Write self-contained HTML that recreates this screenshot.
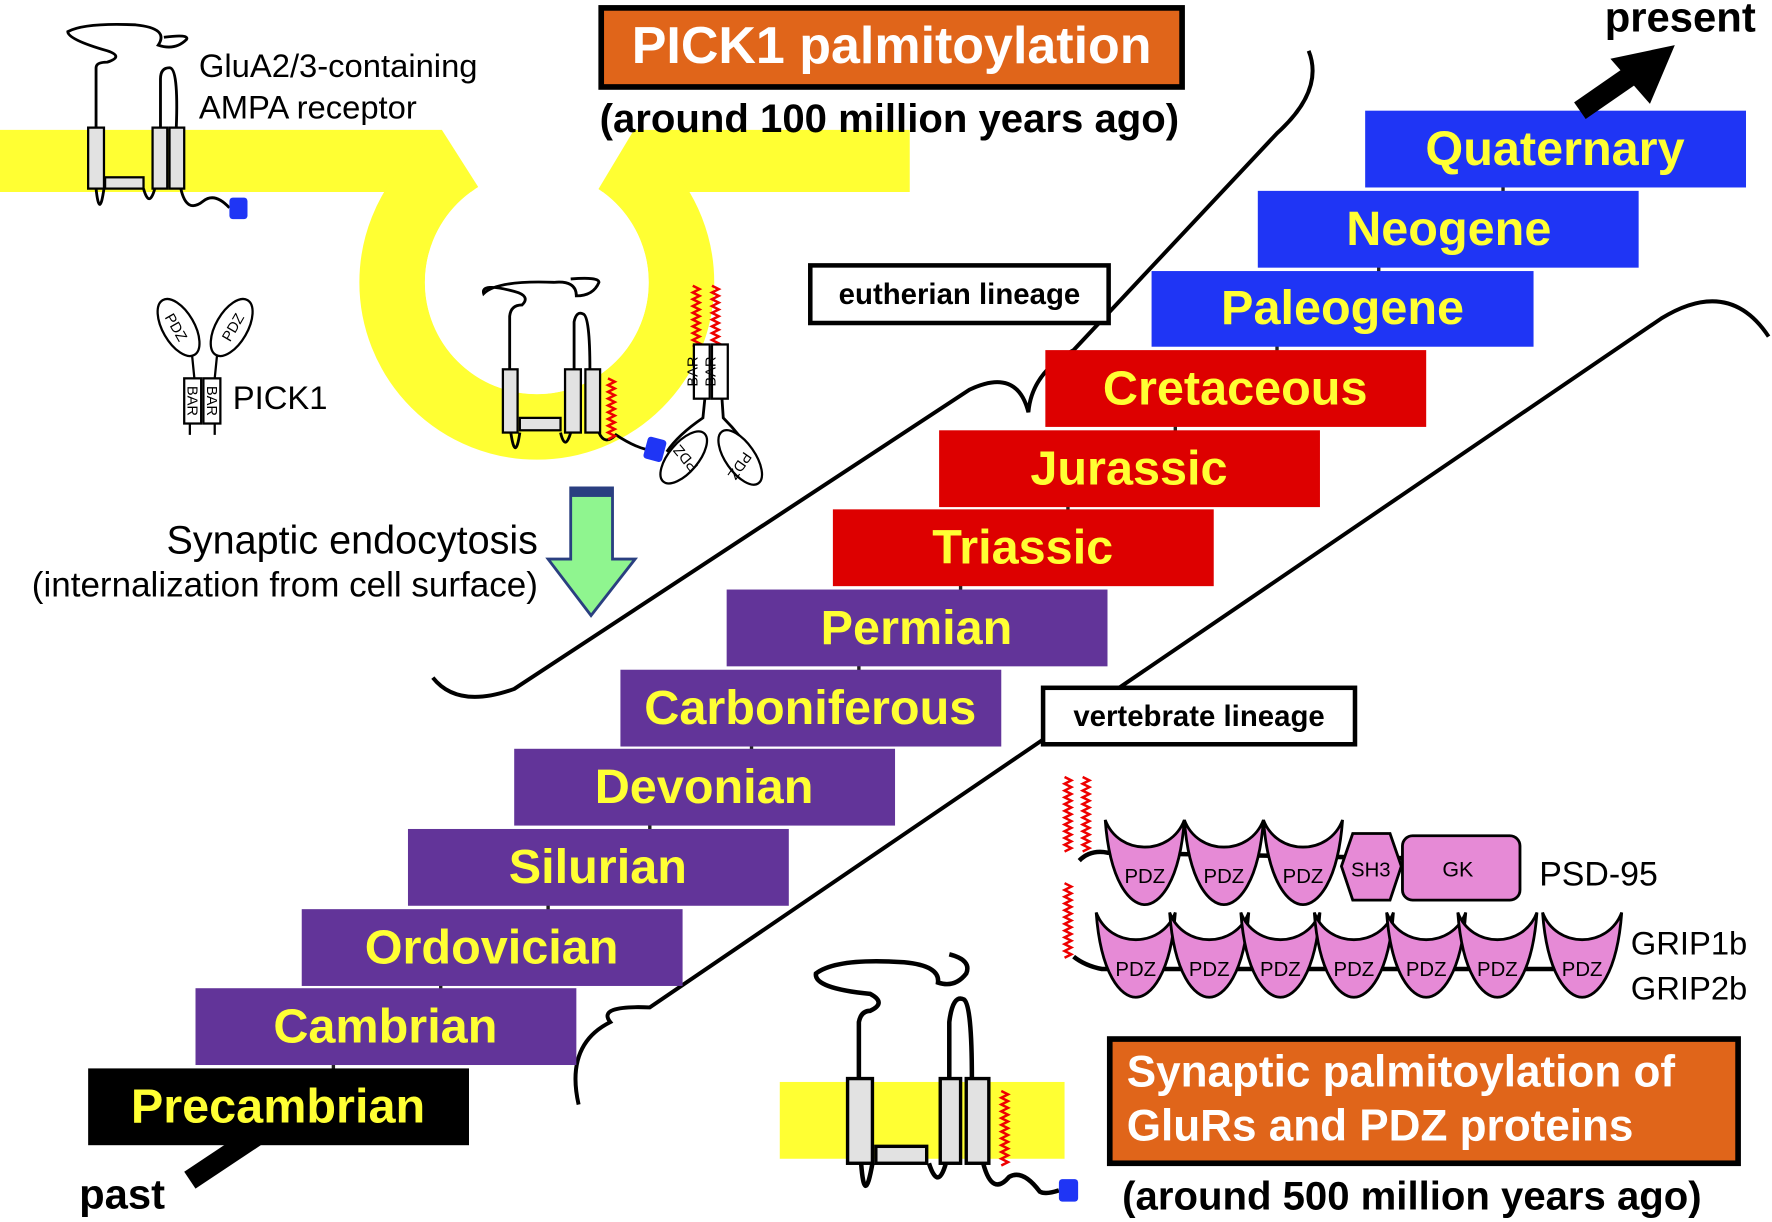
<!DOCTYPE html>
<html><head><meta charset="utf-8"><style>
html,body{margin:0;padding:0;background:#fff}
svg{display:block}
text{font-family:"Liberation Sans",sans-serif}
.st{font-weight:bold;fill:#ffff33;font-size:43px}
.b{font-weight:bold}
.zz{fill:none;stroke:#e00;stroke-width:2.2}
</style></head><body>
<svg width="1772" height="1222" viewBox="0 0 1568 1082" preserveAspectRatio="none" xmlns="http://www.w3.org/2000/svg">
<defs>
<g id="pdz"><path d="M0,0 C4,55 22,75 35,75 C48,75 66,55 70,0 C58,32 12,32 0,0 Z" fill="#e68ad6" stroke="#000" stroke-width="2.5"/><text x="35" y="56" font-size="18" text-anchor="middle">PDZ</text></g>
<path id="z50" d="M0,0 l6,3 -6,3 6,3 -6,3 6,3 -6,3 6,3 -6,3 6,3 -6,3 6,3 -6,3 6,3 -6,3 6,3 -6,3 6,3 -6,3"/>
<path id="z65" d="M0,0 l6,3 -6,3 6,3 -6,3 6,3 -6,3 6,3 -6,3 6,3 -6,3 6,3 -6,3 6,3 -6,3 6,3 -6,3 6,3 -6,3 6,3 -6,3 6,3 -6,3"/>
</defs>

<!-- membrane -->
<rect x="0" y="115" width="420" height="55" fill="#ffff33"/>
<rect x="520" y="115" width="285" height="55" fill="#ffff33"/>
<circle cx="475" cy="250" r="128" fill="none" stroke="#ffff33" stroke-width="58"/>
<polygon points="391,80 561,80 561,115 528,170 426,170 391,115" fill="#fff"/>
<circle cx="475" cy="250" r="99" fill="#fff"/>

<!-- title -->
<rect x="532" y="7" width="514" height="70" fill="#e0651a" stroke="#000" stroke-width="5"/>
<text x="789" y="56" font-size="46" class="b" fill="#fff" text-anchor="middle">PICK1 palmitoylation</text>
<text x="787" y="117" font-size="35.5" class="b" text-anchor="middle">(around 100 million years ago)</text>

<!-- top receptor -->
<g fill="none" stroke="#000" stroke-width="2.5">
<path d="M85,113 L85,60 Q85,55 95,55 Q110,50 95,45 Q60,35 60,28 Q75,20 120,22 Q150,25 140,40 Q155,45 165,35 Q168,30 145,33"/>
<path d="M142,113 L142,70 Q142,60 150,60 Q158,60 156,113"/>
<path d="M85,167 Q88,195 92,167 M127,167 Q132,185 137,167 M160,167 Q165,190 180,178 Q190,170 203,184"/>
</g>
<g fill="#e2e2e2" stroke="#000" stroke-width="2">
<rect x="78" y="113" width="14" height="54"/><rect x="135" y="113" width="13" height="54"/><rect x="150" y="113" width="13" height="54"/><rect x="93" y="157" width="34" height="10"/>
</g>
<rect x="203" y="175" width="16" height="19" rx="3" fill="#1f35f5"/>
<text x="176" y="68" font-size="29">GluA2/3-containing</text>
<text x="176" y="105" font-size="29">AMPA receptor</text>

<!-- PICK1 -->
<g fill="#fff" stroke="#000" stroke-width="2">
<ellipse cx="158" cy="290" rx="14" ry="28" transform="rotate(-30 158 290)"/>
<ellipse cx="205" cy="290" rx="14" ry="28" transform="rotate(30 205 290)"/>
<path d="M170,315 L172,335 M192,315 L190,335" fill="none"/>
<rect x="163" y="335" width="15" height="40"/><rect x="180" y="335" width="15" height="40"/>
<path d="M168,375 V385 M190,375 V385" fill="none"/>
</g>
<g font-size="13">
<text transform="translate(152,292) rotate(60)" text-anchor="middle">PDZ</text>
<text transform="translate(210,292) rotate(-60)" text-anchor="middle">PDZ</text>
<text transform="translate(166,355) rotate(90)" text-anchor="middle">BAR</text>
<text transform="translate(183,355) rotate(90)" text-anchor="middle">BAR</text>
</g>
<text x="206" y="362" font-size="29">PICK1</text>

<!-- middle receptor -->
<g fill="none" stroke="#000" stroke-width="2.5">
<path d="M451,327 L451,280 Q452,270 462,270 Q470,262 455,258 Q425,250 428,260 Q440,248 490,250 Q510,248 510,262 Q525,262 530,250 Q530,245 505,247"/>
<path d="M508,327 L508,285 Q510,275 516,278 Q522,280 522,327"/>
<path d="M452,383 Q456,410 460,383 M496,383 Q500,400 505,383 M530,383 Q535,395 545,385 Q560,395 572,398"/>
<path d="M625,340 L622,370 Q600,385 590,400 M638,340 L640,370 Q655,385 668,405"/>
</g>
<g fill="#e2e2e2" stroke="#000" stroke-width="2">
<rect x="445" y="327" width="13" height="56"/><rect x="500" y="327" width="14" height="56"/><rect x="518" y="327" width="13" height="56"/><rect x="460" y="370" width="36" height="11"/>
</g>
<use href="#z50" class="zz" x="538" y="335"/>
<use href="#z50" class="zz" x="613" y="253"/>
<use href="#z50" class="zz" x="630" y="253"/>
<g fill="#fff" stroke="#000" stroke-width="2">
<rect x="614" y="305" width="14" height="48"/><rect x="630" y="305" width="14" height="48"/>
<ellipse cx="605" cy="405" rx="13" ry="28" transform="rotate(40 605 405)"/>
<ellipse cx="655" cy="405" rx="13" ry="28" transform="rotate(-35 655 405)"/>
</g>
<g font-size="13">
<text transform="translate(617,329) rotate(-90)" text-anchor="middle">BAR</text>
<text transform="translate(633,329) rotate(-90)" text-anchor="middle">BAR</text>
<text transform="translate(610,403) rotate(-130)" text-anchor="middle">PDZ</text>
<text transform="translate(651,410) rotate(-235)" text-anchor="middle">PDZ</text>
</g>
<rect x="571" y="388" width="17" height="20" rx="3" fill="#1f35f5" transform="rotate(15 580 398)"/>

<!-- endocytosis arrow -->
<path d="M505,432 H542 V495 H562 L523,545 L485,495 H505 Z" fill="#8ff58f" stroke="#2a3f80" stroke-width="2.5"/>
<rect x="505" y="432" width="37" height="8" fill="#2a3f80"/>
<text x="476" y="490" font-size="35" text-anchor="end">Synaptic endocytosis</text>
<text x="476" y="528" font-size="31" text-anchor="end">(internalization from cell surface)</text>

<!-- braces -->
<g fill="none" stroke="#000" stroke-width="3.5">
<path d="M383,600 Q405,628 455,610 L858,345 Q900,325 910,365 Q913,330 950,310 L1130,118 Q1172,80 1158,45"/>
<path d="M512,978 Q500,925 540,905 Q528,890 575,892 L1470,282 Q1530,245 1565,298"/>
</g>

<!-- steps -->
<g stroke="#222" stroke-width="3">
<line x1="1330" y1="160" x2="1330" y2="175"/><line x1="1220" y1="232" x2="1220" y2="246"/><line x1="1130" y1="302" x2="1130" y2="316"/>
<line x1="1040" y1="373" x2="1040" y2="387"/><line x1="945" y1="444" x2="945" y2="457"/><line x1="850" y1="514" x2="850" y2="528"/>
<line x1="760" y1="585" x2="760" y2="599"/><line x1="665" y1="656" x2="665" y2="669"/><line x1="575" y1="726" x2="575" y2="740"/>
<line x1="485" y1="797" x2="485" y2="811"/><line x1="390" y1="868" x2="390" y2="881"/><line x1="295" y1="938" x2="295" y2="952"/>
</g>
<rect x="1208" y="98" width="337" height="68" fill="#1f35f5"/>
<rect x="1113" y="169" width="337" height="68" fill="#1f35f5"/>
<rect x="1019" y="240" width="338" height="67" fill="#1f35f5"/>
<rect x="925" y="310" width="337" height="68" fill="#dd0000"/>
<rect x="831" y="381" width="337" height="68" fill="#dd0000"/>
<rect x="737" y="451" width="337" height="68" fill="#dd0000"/>
<rect x="643" y="522" width="337" height="68" fill="#623499"/>
<rect x="549" y="593" width="337" height="68" fill="#623499"/>
<rect x="455" y="663" width="337" height="68" fill="#623499"/>
<rect x="361" y="734" width="337" height="68" fill="#623499"/>
<rect x="267" y="805" width="337" height="68" fill="#623499"/>
<rect x="173" y="875" width="337" height="68" fill="#623499"/>
<rect x="78" y="946" width="337" height="68" fill="#000"/>
<g text-anchor="middle">
<text class="st" x="1376" y="146">Quaternary</text>
<text class="st" x="1282" y="217">Neogene</text>
<text class="st" x="1188" y="287">Paleogene</text>
<text class="st" x="1093" y="358">Cretaceous</text>
<text class="st" x="999" y="429">Jurassic</text>
<text class="st" x="905" y="499">Triassic</text>
<text class="st" x="811" y="570">Permian</text>
<text class="st" x="717" y="641">Carboniferous</text>
<text class="st" x="623" y="711">Devonian</text>
<text class="st" x="529" y="782">Silurian</text>
<text class="st" x="435" y="853">Ordovician</text>
<text class="st" x="341" y="923">Cambrian</text>
<text class="st" x="246" y="994">Precambrian</text>
</g>

<!-- present/past -->
<line x1="1398" y1="98" x2="1450" y2="62" stroke="#000" stroke-width="18"/>
<polygon points="1482,40 1425,52 1460,92" fill="#000"/>
<text x="1420" y="28" font-size="37" class="b">present</text>
<line x1="168" y1="1045" x2="228" y2="1005" stroke="#000" stroke-width="18"/>
<text x="70" y="1070" font-size="37" class="b">past</text>

<!-- lineage labels -->
<rect x="717" y="235" width="264" height="51" fill="#fff" stroke="#000" stroke-width="4"/>
<text x="849" y="269" font-size="26" class="b" text-anchor="middle">eutherian lineage</text>
<rect x="923" y="609" width="276" height="50" fill="#fff" stroke="#000" stroke-width="4"/>
<text x="1061" y="643" font-size="26" class="b" text-anchor="middle">vertebrate lineage</text>

<!-- PSD-95 -->
<use href="#z65" class="zz" x="942" y="688"/>
<use href="#z65" class="zz" x="958" y="688"/>
<path d="M955,762 Q965,752 980,755 L1250,760" fill="none" stroke="#000" stroke-width="4"/>
<use href="#pdz" x="978" y="726"/><use href="#pdz" x="1048" y="726"/><use href="#pdz" x="1118" y="726"/>
<polygon points="1197,738 1230,738 1240,767 1230,797 1197,797 1187,767" fill="#e68ad6" stroke="#000" stroke-width="2.5"/>
<text x="1213" y="776" font-size="18" text-anchor="middle">SH3</text>
<rect x="1241" y="740" width="104" height="57" rx="9" fill="#e68ad6" stroke="#000" stroke-width="2.5"/>
<text x="1290" y="776" font-size="19" text-anchor="middle">GK</text>
<text x="1362" y="784" font-size="30">PSD-95</text>

<!-- GRIP -->
<use href="#z65" class="zz" x="942" y="782"/>
<path d="M950,847 Q960,855 975,858 L1420,858" fill="none" stroke="#000" stroke-width="4"/>
<use href="#pdz" x="970" y="808"/><use href="#pdz" x="1035" y="808"/><use href="#pdz" x="1098" y="808"/><use href="#pdz" x="1163" y="808"/><use href="#pdz" x="1227" y="808"/><use href="#pdz" x="1290" y="808"/><use href="#pdz" x="1365" y="808"/>
<text x="1443" y="845" font-size="29">GRIP1b</text>
<text x="1443" y="885" font-size="29">GRIP2b</text>

<!-- bottom receptor -->
<rect x="690" y="958" width="252" height="68" fill="#ffff33"/>
<g fill="none" stroke="#000" stroke-width="4">
<path d="M760,955 L760,905 Q762,895 770,895 Q785,888 770,880 Q720,875 722,862 Q740,848 800,852 Q832,855 830,870 Q845,875 855,862 Q860,850 840,845"/>
<path d="M840,955 L840,905 Q843,880 853,885 Q860,890 860,955"/>
<path d="M762,1030 Q765,1070 772,1030 M822,1030 Q830,1055 837,1030 M870,1030 Q878,1060 893,1042 Q905,1035 920,1055 Q925,1058 937,1054"/>
</g>
<g fill="#e2e2e2" stroke="#000" stroke-width="3">
<rect x="750" y="955" width="22" height="75"/><rect x="832" y="955" width="18" height="75"/><rect x="855" y="955" width="20" height="75"/><rect x="775" y="1015" width="45" height="15"/>
</g>
<use href="#z65" class="zz" x="886" y="966"/>
<rect x="937" y="1044" width="17" height="20" rx="3" fill="#1f35f5"/>

<!-- bottom box -->
<rect x="982" y="920" width="556" height="110" fill="#e0651a" stroke="#000" stroke-width="5"/>
<text x="997" y="962" font-size="39" class="b" fill="#fff">Synaptic palmitoylation of</text>
<text x="997" y="1010" font-size="39" class="b" fill="#fff">GluRs and PDZ proteins</text>
<text x="993" y="1071" font-size="35.5" class="b">(around 500 million years ago)</text>
</svg>
</body></html>
